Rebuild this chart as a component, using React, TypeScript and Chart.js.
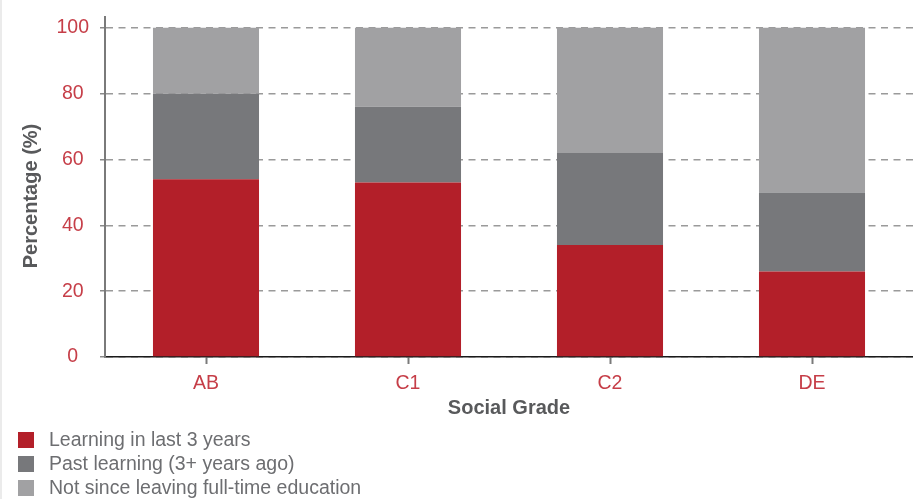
import React, { useEffect, useRef } from "react";
import { Chart, registerables } from "chart.js";

Chart.register(...registerables);

// Social grade categories and share of respondents (%) in each learning group
const grades = ["AB", "C1", "C2", "DE"];
const recentLearning = [54, 53, 34, 26];
const pastLearning = [26, 23, 28, 24];
const noLearning = [20, 24, 38, 50];
const seriesLabels = [
  "Learning in last 3 years",
  "Past learning (3+ years ago)",
  "Not since leaving full-time education",
];
const seriesColors = ["#b31f29", "#77787b", "#a1a1a3"];
const yTickValues = [0, 20, 40, 60, 80, 100];
const yAxisTitle = "Percentage (%)";
const xAxisTitle = "Social Grade";

const FONT = "'Liberation Sans', Arial, Helvetica, sans-serif";
const TICK_RED = "#c63e48";
const TITLE_GREY = "#58595b";

// Legend stacked as a single column under the x-axis
const columnLegend = {
  id: "columnLegend",
  afterDraw(chart: Chart) {
    const ctx = chart.ctx;
    ctx.save();
    ctx.font = `19.5px ${FONT}`;
    ctx.textBaseline = "middle";
    ctx.textAlign = "left";
    chart.data.datasets.forEach((ds, i) => {
      const cy = 440 + i * 24;
      ctx.fillStyle = ds.backgroundColor as string;
      ctx.fillRect(18, cy - 8, 16, 16);
      ctx.fillStyle = "#6d6e71";
      ctx.fillText(ds.label as string, 49, cy + 1);
    });
    ctx.restore();
  },
};

// Rotated y-axis title, sitting slightly below the plot's vertical centre
const yTitle = {
  id: "yTitle",
  afterDraw(chart: Chart) {
    const ctx = chart.ctx;
    const { top, bottom } = chart.chartArea;
    ctx.save();
    ctx.translate(31, (top + bottom) / 2 + 9);
    ctx.rotate(-Math.PI / 2);
    ctx.font = `bold 20px ${FONT}`;
    ctx.fillStyle = TITLE_GREY;
    ctx.textAlign = "center";
    ctx.textBaseline = "middle";
    ctx.fillText(yAxisTitle, 0, 0);
    ctx.restore();
  },
};

export default function App() {
  const canvasRef = useRef<HTMLCanvasElement | null>(null);

  useEffect(() => {
    document.body.style.margin = "0";
    const canvas = canvasRef.current;
    if (!canvas) return;
    const values = [recentLearning, pastLearning, noLearning];
    const chart = new Chart(canvas, {
      type: "bar",
      data: {
        labels: grades,
        datasets: values.map((data, i) => ({
          label: seriesLabels[i],
          data,
          backgroundColor: seriesColors[i],
          borderWidth: 0,
          categoryPercentage: 1,
          barPercentage: 0.525,
        })),
      },
      plugins: [columnLegend, yTitle],
      options: {
        responsive: false,
        devicePixelRatio: 1,
        animation: false,
        layout: { padding: { top: 17, left: 0, right: 0, bottom: 72 } },
        plugins: {
          legend: { display: false },
          tooltip: { enabled: false },
        },
        scales: {
          x: {
            stacked: true,
            afterFit(scale: any) {
              scale.height = 70;
              scale.paddingLeft = 0;
              scale.paddingRight = 0;
            },
            grid: {
              offset: false,
              drawOnChartArea: false,
              drawTicks: true,
              tickLength: 7,
              tickColor: "#7a7a7a",
              tickWidth: 2,
            },
            border: { display: true, color: "#1a1a1a", width: 1.5 },
            ticks: {
              color: TICK_RED,
              font: { family: FONT, size: 19.5 },
              padding: 8,
            },
            title: {
              display: true,
              text: xAxisTitle,
              color: TITLE_GREY,
              font: { family: FONT, size: 20, weight: "bold" },
              padding: { top: 0, bottom: 7 },
            },
          },
          y: {
            stacked: true,
            min: 0,
            max: 103.3,
            afterFit(scale: any) {
              scale.width = 105;
              scale.paddingTop = 0;
              scale.paddingBottom = 0;
            },
            afterBuildTicks(scale: any) {
              scale.ticks = yTickValues.map((value) => ({ value }));
            },
            grid: {
              color: "#9a9a9a",
              lineWidth: 1.5,
              drawTicks: true,
              tickLength: 5,
              tickColor: "#8a8a8a",
              tickWidth: 1.5,
              tickBorderDash: [],
            },
            border: { display: true, color: "#7a7a7a", width: 2, dash: [7, 5.5] },
            ticks: {
              color: TICK_RED,
              font: { family: FONT, size: 19.5 },
              padding: 11,
              crossAlign: "center",
            },
            title: { display: false },
          },
        },
      },
    });
    return () => chart.destroy();
  }, []);

  return (
    <div style={{ position: "absolute", left: 0, top: 0, width: 913, height: 499, overflow: "hidden", background: "#fff" }}>
      <div style={{ position: "absolute", left: 0, top: 0, width: 2, height: 499, background: "#ebebeb" }} />
      <canvas ref={canvasRef} width={913} height={499} style={{ display: "block" }} />
    </div>
  );
}
